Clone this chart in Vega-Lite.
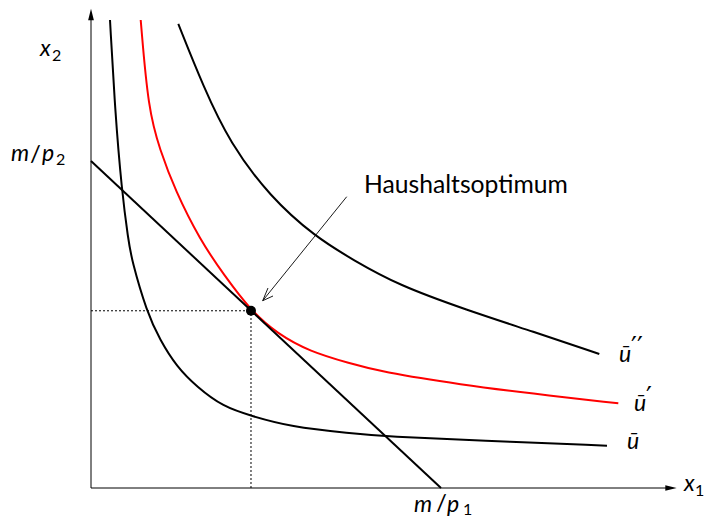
{
  "$schema": "https://vega.github.io/schema/vega-lite/v6.json",
  "width": 706,
  "height": 518,
  "padding": 0,
  "autosize": {"type": "none"},
  "background": "white",
  "config": {"view": {"stroke": null}},
  "datasets": {
    "curves": [
      {"curve": "u", "x": 0.543, "y": 14.312},
      {"curve": "u", "x": 0.686, "y": 11.56},
      {"curve": "u", "x": 0.877, "y": 9.113},
      {"curve": "u", "x": 1.066, "y": 7.584},
      {"curve": "u", "x": 1.163, "y": 6.972},
      {"curve": "u", "x": 1.591, "y": 5.391},
      {"curve": "u", "x": 1.971, "y": 4.526},
      {"curve": "u", "x": 2.449, "y": 3.709},
      {"curve": "u", "x": 3.02, "y": 3.098},
      {"curve": "u", "x": 3.771, "y": 2.486},
      {"curve": "u", "x": 4.591, "y": 2.202},
      {"curve": "u", "x": 5.686, "y": 1.875},
      {"curve": "u", "x": 7.4, "y": 1.673},
      {"curve": "u", "x": 8.486, "y": 1.569},
      {"curve": "u", "x": 11.114, "y": 1.453},
      {"curve": "u", "x": 14.743, "y": 1.294},
      {"curve": "u1", "x": 1.42, "y": 14.312},
      {"curve": "u1", "x": 1.637, "y": 11.56},
      {"curve": "u1", "x": 1.971, "y": 10.336},
      {"curve": "u1", "x": 2.4, "y": 9.113},
      {"curve": "u1", "x": 3.114, "y": 7.584},
      {"curve": "u1", "x": 3.8, "y": 6.514},
      {"curve": "u1", "x": 4.571, "y": 5.42},
      {"curve": "u1", "x": 5.306, "y": 4.731},
      {"curve": "u1", "x": 6.257, "y": 4.168},
      {"curve": "u1", "x": 7.4, "y": 3.813},
      {"curve": "u1", "x": 8.257, "y": 3.557},
      {"curve": "u1", "x": 10.637, "y": 3.15},
      {"curve": "u1", "x": 12.543, "y": 2.896},
      {"curve": "u1", "x": 15.066, "y": 2.59},
      {"curve": "u2", "x": 2.494, "y": 14.19},
      {"curve": "u2", "x": 3.209, "y": 12.272},
      {"curve": "u2", "x": 3.971, "y": 10.541},
      {"curve": "u2", "x": 5.114, "y": 8.908},
      {"curve": "u2", "x": 6.4, "y": 7.685},
      {"curve": "u2", "x": 7.494, "y": 6.972},
      {"curve": "u2", "x": 8.771, "y": 6.208},
      {"curve": "u2", "x": 10.734, "y": 5.443},
      {"curve": "u2", "x": 12.637, "y": 4.78},
      {"curve": "u2", "x": 14.523, "y": 4.098},
      {"curve": "budget", "x": 0, "y": 10},
      {"curve": "budget", "x": 10, "y": 0}
    ],
    "guides": [
      {"x": 0, "y": 5.42, "x2": 4.571, "y2": 5.42},
      {"x": 4.571, "y": 0, "x2": 4.571, "y2": 5.42}
    ],
    "axes": [
      {"x": 0, "y": 0, "x2": 0, "y2": 14.312},
      {"x": 0, "y": 0, "x2": 16.43, "y2": 0}
    ],
    "heads": [
      {"dir": "up", "x": 0, "y": 14.48},
      {"dir": "right", "x": 16.571, "y": 0}
    ],
    "pointer": [
      {"x": 7.306, "y": 8.908, "x2": 4.906, "y2": 5.728},
      {"x": 4.906, "y": 5.728, "x2": 5.2, "y2": 5.872},
      {"x": 4.906, "y": 5.728, "x2": 5.057, "y2": 6.116}
    ],
    "optimum": [{"x": 4.571, "y": 5.42}],
    "mathLabels": [
      {"label": "x", "x": -1.457, "y": 13.211},
      {"label": "m", "x": -2.286, "y": 10.0},
      {"label": "p", "x": -1.4, "y": 10.0},
      {"label": "x", "x": 16.943, "y": -0.092},
      {"label": "m", "x": 9.229, "y": -0.734},
      {"label": "p", "x": 10.171, "y": -0.734},
      {"label": "ū", "x": 15.086, "y": 3.853},
      {"label": "ū", "x": 15.514, "y": 2.355},
      {"label": "ū", "x": 15.314, "y": 1.193}
    ],
    "slashLabels": [
      {"label": "/", "x": -1.743, "y": 9.97},
      {"label": "/", "x": 9.857, "y": -0.703}
    ],
    "subLabels": [
      {"label": "2", "x": -1.114, "y": 13.058},
      {"label": "2", "x": -1.0, "y": 9.878},
      {"label": "1", "x": 17.257, "y": -0.245},
      {"label": "1", "x": 10.629, "y": -0.826}
    ],
    "primeLabels": [
      {"label": "′′", "x": 15.429, "y": 4.037},
      {"label": "′", "x": 15.857, "y": 2.508}
    ],
    "textLabels": [
      {"label": "Haushaltsoptimum", "x": 7.8, "y": 9.021}
    ]
  },
  "encoding": {
    "x": {"field": "x", "type": "quantitative", "scale": {"domain": [-2.6, 17.5714], "nice": false, "zero": false}, "axis": null},
    "y": {"field": "y", "type": "quantitative", "scale": {"domain": [-0.9174, 14.9235], "nice": false, "zero": false}, "axis": null}
  },
  "layer": [
    {
      "data": {"name": "guides"},
      "mark": {"type": "rule", "color": "black", "strokeWidth": 1, "strokeDash": [2, 2]},
      "encoding": {"x2": {"field": "x2"}, "y2": {"field": "y2"}}
    },
    {
      "data": {"name": "axes"},
      "mark": {"type": "rule", "color": "black", "strokeWidth": 1},
      "encoding": {"x2": {"field": "x2"}, "y2": {"field": "y2"}}
    },
    {
      "data": {"name": "heads"},
      "mark": {"type": "point", "filled": true, "color": "black", "opacity": 1, "size": 130},
      "encoding": {
        "shape": {"field": "dir", "type": "nominal", "legend": null,
          "scale": {"domain": ["up", "right"], "range": ["M0,-1L0.5,1L-0.5,1Z", "M1,0L-1,0.5L-1,-0.5Z"]}}
      }
    },
    {
      "data": {"name": "curves"},
      "mark": {"type": "line", "strokeWidth": 2, "interpolate": "basis"},
      "encoding": {
        "color": {"field": "curve", "type": "nominal", "legend": null,
          "scale": {"domain": ["u", "u1", "u2", "budget"], "range": ["#000000", "#ff0000", "#000000", "#000000"]}}
      }
    },
    {
      "data": {"name": "pointer"},
      "mark": {"type": "rule", "color": "black", "strokeWidth": 0.9},
      "encoding": {"x2": {"field": "x2"}, "y2": {"field": "y2"}}
    },
    {
      "data": {"name": "optimum"},
      "mark": {"type": "point", "shape": "circle", "filled": true, "color": "black", "opacity": 1, "size": 100}
    },
    {
      "data": {"name": "mathLabels"},
      "mark": {"type": "text", "align": "left", "baseline": "alphabetic", "font": "Lato", "fontStyle": "italic", "fontSize": 23, "color": "black"},
      "encoding": {"text": {"field": "label"}}
    },
    {
      "data": {"name": "slashLabels"},
      "mark": {"type": "text", "align": "left", "baseline": "alphabetic", "font": "Lato", "fontSize": 24, "color": "black"},
      "encoding": {"text": {"field": "label"}}
    },
    {
      "data": {"name": "subLabels"},
      "mark": {"type": "text", "align": "left", "baseline": "alphabetic", "font": "Lato", "fontSize": 16, "color": "black"},
      "encoding": {"text": {"field": "label"}}
    },
    {
      "data": {"name": "primeLabels"},
      "mark": {"type": "text", "align": "left", "baseline": "alphabetic", "font": "DejaVu Sans", "fontSize": 26, "color": "black"},
      "encoding": {"text": {"field": "label"}}
    },
    {
      "data": {"name": "textLabels"},
      "mark": {"type": "text", "align": "left", "baseline": "alphabetic", "font": "Lato", "fontSize": 24.7, "color": "black"},
      "encoding": {"text": {"field": "label"}}
    }
  ]
}
